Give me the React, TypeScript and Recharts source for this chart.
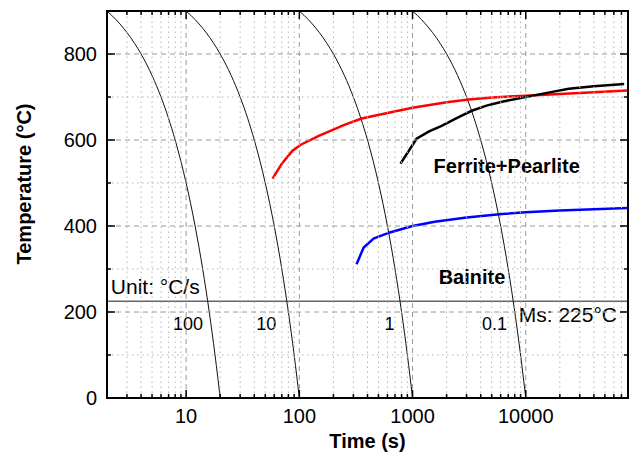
import React from "react";
import { LineChart, Line, XAxis, YAxis, ReferenceDot } from "recharts";

const FONT = "'Liberation Sans', Arial, sans-serif";
const CHART_W = 633;
const CHART_H = 456;
const MARGIN = { top: 10, right: 4, bottom: 0, left: 0 };
const Y_AXIS_W = 107;
const X_AXIS_H = 58;
const PLOT_LEFT = MARGIN.left + Y_AXIS_W;
const PLOT_TOP = MARGIN.top + 1;
const PLOT_W = CHART_W - PLOT_LEFT - MARGIN.right - 1;
const PLOT_H = CHART_H - PLOT_TOP - X_AXIS_H;

// axis ticks
const xMajorTicks = [10, 100, 1000, 10000];
const xMinorTicks = [
  2, 3, 4, 5, 6, 7, 8, 9,
  20, 30, 40, 50, 60, 70, 80, 90,
  200, 300, 400, 500, 600, 700, 800, 900,
  2000, 3000, 4000, 5000, 6000, 7000, 8000, 9000,
  20000, 30000, 40000, 50000, 60000, 70000, 80000,
];
const xTicks = [...xMajorTicks, ...xMinorTicks].sort((a, b) => a - b);
const yMajorTicks = [0, 200, 400, 600, 800];
const yMinorTicks = [100, 300, 500, 700, 900];
const yTicks = [...yMajorTicks, ...yMinorTicks].sort((a, b) => a - b);
const X_MIN = 2;
const X_MAX = 80000;
const Y_MIN = 0;
const Y_MAX = 900;

// cooling curves (temperature shared, time per curve)
const coolTemps = [900, 890, 880, 870, 850, 825, 800, 750, 700, 650, 600, 500, 400, 300, 200, 100, 0];
const cool100Times = [2, 2.2, 2.4, 2.6, 3, 3.5, 4, 5, 6, 7, 8, 10, 12, 14, 16, 18, 20];
const cool10Times = [10, 11, 12, 13, 15, 17.5, 20, 25, 30, 35, 40, 50, 60, 70, 80, 90, 100];
const cool1Times = [100, 110, 120, 130, 150, 175, 200, 250, 300, 350, 400, 500, 600, 700, 800, 900, 1000];
const cool01Times = [1000, 1100, 1200, 1300, 1500, 1750, 2000, 2500, 3000, 3500, 4000, 5000, 6000, 7000, 8000, 9000, 10000];

// transformation start curves
const ferriteTimes = [58, 70, 87, 103, 150, 250, 355, 600, 1000, 2000, 3140, 5000, 10000, 20000, 40000, 78700];
const ferriteTemps = [510, 545, 575, 589, 610, 635, 650, 663, 675, 688, 694, 699, 703, 707, 711, 715];
const pearliteTimes = [783, 1085, 1400, 1808, 2500, 3335, 4500, 6170, 10000, 15000, 24000, 40000, 74000];
const pearliteTemps = [545, 603, 620, 633, 652, 668, 680, 689, 700, 709, 719, 725, 730];
const bainiteTimes = [320, 370, 453, 630, 1000, 1570, 3000, 6170, 10000, 20000, 40000, 78700];
const bainiteTemps = [311, 350, 371, 385, 400, 410, 420, 428, 432, 436, 439, 442];

// Ms line
const msTimes = [2, 80000];
const msTemps = [225, 225];

const rateLabels = ["100", "10", "1", "0.1"];
const rateLabelTimes = [10.4, 51, 625, 5300];

const zip = (ts: number[], vs: number[]) => ts.map((t, i) => ({ t, T: vs[i] }));

const coolCurves = [cool100Times, cool10Times, cool1Times, cool01Times].map((ts) => zip(ts, coolTemps));
const ferrite = zip(ferriteTimes, ferriteTemps);
const pearlite = zip(pearliteTimes, pearliteTemps);
const bainite = zip(bainiteTimes, bainiteTemps);
const msLine = zip(msTimes, msTemps);

const txt = { fontFamily: FONT, fill: "#000" };
const gridMajor = { stroke: "#9a9a9a", strokeWidth: 1, strokeDasharray: "5 4" };
const gridMinor = { stroke: "#b5b5b5", strokeWidth: 1, strokeDasharray: "1.5 3.5" };
const tickStyle = { stroke: "#000", strokeWidth: 1.5 };

// bottom ticks also carry the vertical grid
function BottomTick({ x, y, payload }: any) {
  const v = payload.value;
  const major = xMajorTicks.includes(v);
  const inner = v !== X_MIN && v !== X_MAX;
  return (
    <g>
      {inner && <line x1={x} x2={x} y1={y} y2={y - PLOT_H} {...(major ? gridMajor : gridMinor)} />}
      <line x1={x} x2={x} y1={y} y2={y - (major ? 8 : 4)} {...tickStyle} />
      {major && (
        <text x={x} y={y + 25} textAnchor="middle" fontSize={20} {...txt}>
          {v}
        </text>
      )}
    </g>
  );
}

function TopTick({ x, y, payload }: any) {
  const major = xMajorTicks.includes(payload.value);
  return <line x1={x} x2={x} y1={y} y2={y + (major ? 8 : 4)} {...tickStyle} />;
}

// left ticks also carry the horizontal grid
function LeftTick({ x, y, payload }: any) {
  const v = payload.value;
  const major = yMajorTicks.includes(v);
  const inner = v !== Y_MIN && v !== Y_MAX;
  return (
    <g>
      {inner && <line x1={x} x2={x + PLOT_W} y1={y} y2={y} {...(major ? gridMajor : gridMinor)} />}
      <line x1={x} x2={x + (major ? 8 : 4)} y1={y} y2={y} {...tickStyle} />
      {major && (
        <text x={x - 10} y={y} dy="0.36em" textAnchor="end" fontSize={20} {...txt}>
          {v}
        </text>
      )}
    </g>
  );
}

function RightTick({ x, y, payload }: any) {
  const major = yMajorTicks.includes(payload.value);
  return <line x1={x} x2={x - (major ? 8 : 4)} y1={y} y2={y} {...tickStyle} />;
}

const note = (text: string, size: number, bold: boolean, anchor: "start" | "middle") => (p: any) => (
  <text x={p.cx} y={p.cy} fontSize={size} fontWeight={bold ? "bold" : "normal"} textAnchor={anchor} {...txt}>
    {text}
  </text>
);

export default function App() {
  return (
    <div style={{ position: "absolute", left: 0, top: 0, width: CHART_W, height: CHART_H, background: "#fff" }}>
      <LineChart width={CHART_W} height={CHART_H} margin={MARGIN}>
        <XAxis
          dataKey="t"
          type="number"
          scale="log"
          domain={[X_MIN, X_MAX]}
          ticks={xTicks}
          interval={0}
          height={X_AXIS_H}
          tickSize={0}
          tickMargin={0}
          tickLine={false}
          tick={<BottomTick />}
          axisLine={{ stroke: "#000", strokeWidth: 2 }}
          label={{
            value: "Time (s)",
            position: "insideBottom",
            offset: 8,
            style: { fontFamily: FONT, fontSize: 20, fontWeight: "bold", fill: "#000" },
          }}
        />
        <XAxis
          xAxisId="top"
          orientation="top"
          dataKey="t"
          type="number"
          scale="log"
          domain={[X_MIN, X_MAX]}
          ticks={xTicks}
          interval={0}
          height={1}
          tickSize={0}
          tickMargin={0}
          tickLine={false}
          tick={<TopTick />}
          axisLine={{ stroke: "#000", strokeWidth: 2 }}
        />
        <YAxis
          type="number"
          domain={[Y_MIN, Y_MAX]}
          ticks={yTicks}
          interval={0}
          width={Y_AXIS_W}
          tickSize={0}
          tickMargin={0}
          tickLine={false}
          tick={<LeftTick />}
          axisLine={{ stroke: "#000", strokeWidth: 2 }}
          label={{
            content: () => (
              <text
                x={31}
                y={184}
                transform="rotate(-90 31 184)"
                textAnchor="middle"
                fontSize={20}
                fontWeight="bold"
                {...txt}
              >
                Temperature (°C)
              </text>
            ),
          }}
        />
        <YAxis
          yAxisId="right"
          orientation="right"
          type="number"
          domain={[Y_MIN, Y_MAX]}
          ticks={yTicks}
          interval={0}
          width={1}
          tickSize={0}
          tickMargin={0}
          tickLine={false}
          tick={<RightTick />}
          axisLine={{ stroke: "#000", strokeWidth: 2 }}
        />

        <Line
          data={msLine}
          xAxisId="top"
          yAxisId="right"
          dataKey="T"
          type="linear"
          stroke="#666"
          strokeWidth={1.5}
          dot={false}
          isAnimationActive={false}
        />

        {coolCurves.map((d, i) => (
          <Line
            key={i}
            data={d}
            dataKey="T"
            type="monotone"
            stroke="#111"
            strokeWidth={1}
            dot={false}
            isAnimationActive={false}
          />
        ))}
        <Line data={ferrite} dataKey="T" type="linear" stroke="#ff0000" strokeWidth={2.5} dot={false} isAnimationActive={false} />
        <Line data={pearlite} dataKey="T" type="linear" stroke="#000" strokeWidth={2.5} dot={false} isAnimationActive={false} />
        <Line data={bainite} dataKey="T" type="linear" stroke="#0000ff" strokeWidth={2.5} dot={false} isAnimationActive={false} />

        {rateLabels.map((s, i) => (
          <ReferenceDot key={s} x={rateLabelTimes[i]} y={158} r={0} shape={note(s, 18, false, "middle")} />
        ))}
        <ReferenceDot x={2.16} y={241} r={0} shape={note("Unit: °C/s", 21, false, "start")} />
        <ReferenceDot x={8670} y={176} r={0} shape={note("Ms: 225°C", 21, false, "start")} />
        <ReferenceDot x={1535} y={524} r={0} shape={note("Ferrite+Pearlite", 20, true, "start")} />
        <ReferenceDot x={1700} y={264} r={0} shape={note("Bainite", 20, true, "start")} />
      </LineChart>
      {/* plot frame drawn over the chart so it stays visible */}
      <svg
        width={CHART_W}
        height={CHART_H}
        style={{ position: "absolute", left: 0, top: 0, pointerEvents: "none" }}
      >
        <rect x={PLOT_LEFT} y={PLOT_TOP} width={PLOT_W} height={PLOT_H} fill="none" stroke="#000" strokeWidth={2} />
      </svg>
    </div>
  );
}
